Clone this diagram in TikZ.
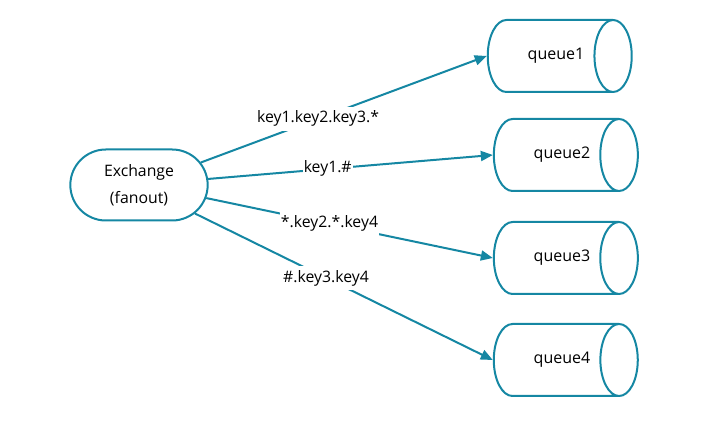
\documentclass[tikz,border=0pt]{standalone}
\usepackage{fontspec}
\setmainfont{Open Sans}
\usetikzlibrary{shapes.geometric,shapes.misc,arrows.meta}
\definecolor{qblue}{HTML}{1587A3}
\begin{document}
\begin{tikzpicture}[x=1pt,y=-1pt]
        % Define styles for shapes
        \tikzstyle{exchange} = [draw=qblue, line width=2pt, rounded rectangle, minimum width=144pt, minimum height=71pt, align=center, font=\fontsize{15.8}{18}\selectfont]
        \tikzstyle{queue} = [draw=qblue, line width=2pt, cylinder, aspect=1.7, minimum width=72pt, minimum height=144pt, font=\fontsize{16}{18}\selectfont]
        \tikzstyle{route} = [draw=qblue, line width=2pt, -{Triangle[length=12pt,width=10pt]}]
        \tikzstyle{keylabel} = [fill=white, inner xsep=1pt, inner ysep=4pt, font=\fontsize{15.8}{18}\selectfont]

        \useasboundingbox (0,0) rectangle (715,427);

        % Draw shapes
        \node[exchange] (ex) at (139,185) {Exchange\\[9pt](fanout)};
        \node[queue] (q1) at (546,56) {\hspace*{20pt}queue1};
        \node[queue] (q2) at (552,155) {\hspace*{20pt}queue2};
        \node[queue] (q3) at (552,258) {\hspace*{20pt}queue3};
        \node[queue] (q4) at (552,360) {\hspace*{20pt}queue4};

        % Draw routes
        \draw[route] (ex.20) -- node[keylabel, pos=0.41] {key1.key2.key3.*} (q1.west);
        \draw[route] (ex.5) -- node[keylabel, pos=0.42] {key1.\#} (q2.west);
        \draw[route] (ex.-11) -- node[keylabel, pos=0.43] {*.key2.*.key4} (q3.west);
        \draw[route] (ex.-27) -- node[keylabel, pos=0.44] {\#.key3.key4} (q4.west);
\end{tikzpicture}
\end{document}
